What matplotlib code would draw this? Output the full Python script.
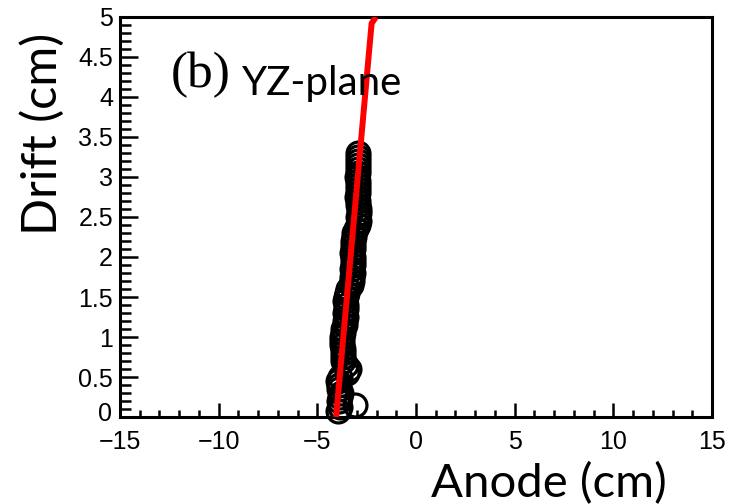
import matplotlib
matplotlib.use("Agg")
import matplotlib.pyplot as plt
from matplotlib.ticker import MultipleLocator

# hit positions in the YZ plane (anode in cm, drift in cm)
hit_drift = [3.30, 3.25, 3.20, 3.15, 3.10, 3.05, 3.00, 2.95, 2.90, 2.85,
             2.80, 2.75, 2.70, 2.65, 2.60, 2.55, 2.50, 2.45, 2.40, 2.35,
             2.30, 2.25, 2.20, 2.15, 2.10, 2.05, 2.00, 1.95, 1.90, 1.85,
             1.80, 1.75, 1.70, 1.65, 1.60, 1.55, 1.50, 1.45, 1.40, 1.35,
             1.30, 1.25, 1.20, 1.15, 1.10, 1.05, 1.00, 0.95, 0.90, 0.85,
             0.80, 0.75, 0.70, 0.65, 0.60, 0.55, 0.50, 0.45, 0.40, 0.35,
             0.30, 0.25, 0.20, 0.15, 0.12, 0.07]
hit_anode = [-2.95, -2.93, -2.96, -2.94, -2.92, -2.95, -2.97, -2.93, -2.95, -2.96,
             -2.94, -2.98, -2.92, -2.96, -2.90, -2.88, -2.95, -2.87, -2.93, -3.05,
             -3.12, -3.15, -3.18, -3.20, -3.17, -3.22, -3.19, -3.21, -3.18, -3.23,
             -3.20, -3.25, -3.22, -3.30, -3.45, -3.52, -3.55, -3.58, -3.54, -3.56,
             -3.60, -3.55, -3.58, -3.62, -3.70, -3.72, -3.75, -3.73, -3.76, -3.72,
             -3.70, -3.68, -3.72, -3.55, -3.40, -3.50, -3.85, -3.95, -3.92, -3.90,
             -3.80, -3.85, -3.88, -3.10, -3.85, -3.95]

# fitted track
fit_anode = [-4.05, -2.25, -2.03]
fit_drift = [0.0, 4.92, 5.0]

plt.rcParams['font.family'] = ['Liberation Sans', 'DejaVu Sans']

fig = plt.figure(figsize=(7.35, 5.04), dpi=100)
ax = fig.add_axes([0.1633, 0.1726, 0.8054, 0.7937])

ax.plot(hit_anode, hit_drift, linestyle='none', marker='o', markersize=16.5,
        markerfacecolor='none', markeredgecolor='black', markeredgewidth=2.3,
        clip_on=False, zorder=2)
ax.plot(fit_anode, fit_drift, color='#ff0000', linewidth=4.3,
        solid_capstyle='butt', zorder=3)

ax.set_xlim(-15, 15)
ax.set_ylim(0, 5)
ax.xaxis.set_major_locator(MultipleLocator(5))
ax.xaxis.set_minor_locator(MultipleLocator(1))
ax.yaxis.set_major_locator(MultipleLocator(0.5))
ax.yaxis.set_minor_locator(MultipleLocator(0.1))
# the 0 on the drift axis is written separately, a little higher
ax.yaxis.set_major_formatter(plt.FuncFormatter(lambda v, p: '' if v == 0 else f"{v:g}"))

for s in ax.spines.values():
    s.set_linewidth(2.2)
ax.tick_params(axis='both', which='both', direction='in', width=1.8,
               top=False, right=False, labelsize=18)
ax.tick_params(axis='x', which='major', length=10, pad=9)
ax.tick_params(axis='x', which='minor', length=5)
ax.tick_params(axis='y', which='major', length=13, pad=5)
ax.tick_params(axis='y', which='minor', length=8)

ax.annotate('0', xy=(0, 0), xycoords=('axes fraction', 'data'),
            xytext=(-6, 2), textcoords='offset points',
            ha='right', va='center', fontsize=18)

# axis titles
fig.text(431 / 735, 7 / 504, 'Anode (cm)', family='Lato', fontsize=34,
         ha='left', va='baseline')
fig.text(20 / 735, 1 - 134 / 504, 'Drift (cm)', family='Lato', fontsize=35,
         rotation=90, ha='left', va='center')

ax.text(0.085, 0.825, '(b)', transform=ax.transAxes, family='Liberation Serif',
        fontsize=37, va='baseline', ha='left')
ax.text(0.206, 0.805, 'YZ-plane', transform=ax.transAxes, family='Lato',
        fontsize=29, va='baseline', ha='left')

fig.savefig('out.png', dpi=100)
